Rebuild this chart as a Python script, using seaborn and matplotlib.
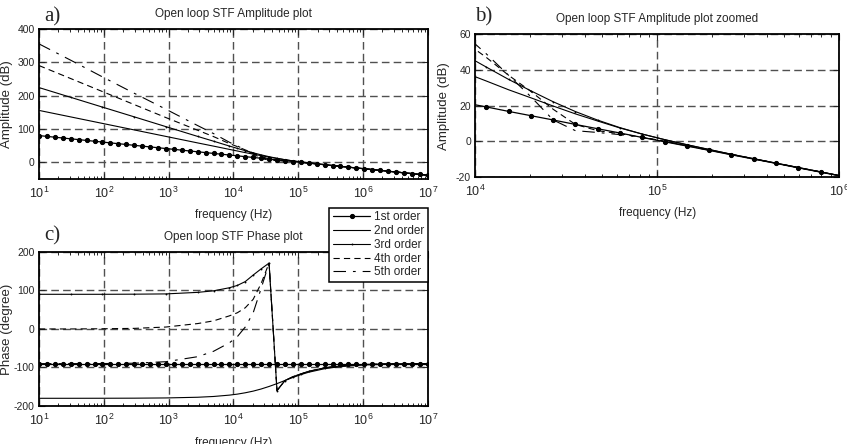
import numpy as np
import pandas as pd
import matplotlib
matplotlib.use('Agg')
import matplotlib.pyplot as plt
import seaborn as sns

sns.set_style('ticks')
plt.rcParams['font.family'] = ['Liberation Sans', 'DejaVu Sans']
plt.rcParams['lines.scale_dashes'] = False
plt.rcParams['axes.unicode_minus'] = False

# ---- data ----
# sweep used for the 1st order (marked) curve
freq = [10, 13.26, 17.58, 23.30, 30.89, 40.95, 54.29, 71.97, 95.41, 126.5,
        167.7, 222.3, 294.7, 390.7, 518.0, 686.7, 910.3, 1207, 1600, 2121,
        2812, 3728, 4942, 6551, 8685, 11514, 15264, 20236, 26827, 35565,
        47149, 62506, 82864, 109854, 145635, 193070, 255955, 339322, 449843, 596362,
        790604, 1048113, 1389495, 1842070, 2442053, 3237458, 4291934, 5689866, 7543120, 10000000]
amp_1st = [80.0, 77.6, 75.1, 72.7, 70.3, 67.9, 65.4, 63.0, 60.6, 58.1,
           55.7, 53.3, 50.8, 48.4, 46.0, 43.6, 41.1, 38.7, 36.3, 33.8,
           31.4, 29.0, 26.5, 24.1, 21.7, 19.3, 16.8, 14.4, 12.0, 9.5,
           7.1, 4.7, 2.2, -0.2, -2.6, -5.0, -7.5, -9.9, -12.3, -14.8,
           -17.2, -19.6, -22.1, -24.5, -26.9, -29.4, -31.8, -34.2, -36.6, -39.1]
phase_1st = [-90.0] * len(freq)

# coarser points for the higher orders
freq_hi = [10, 30.89, 95.41, 294.7, 910.3, 2812, 4942, 8685, 11514, 15264,
           20236, 26827, 35565, 47149, 62506, 82864, 109854, 145635, 255955, 449843,
           1048113, 3237458, 10000000]
amp_2nd = [155.5, 136.0, 116.5, 97.0, 77.5, 58.0, 48.4, 38.6, 33.8, 28.9,
           24.4, 19.8, 15.4, 11.4, 7.5, 4.1, 1.0, -1.8, -7.2, -12.1,
           -19.5, -29.2, -38.9]
amp_3rd = [224.0, 194.7, 165.4, 136.2, 106.8, 77.5, 63.2, 48.6, 41.6, 34.7,
           28.3, 22.2, 16.7, 11.9, 7.7, 4.1, 1.0, -1.9, -7.2, -12.2,
           -19.5, -29.2, -38.9]
amp_4th = [290.0, 251.0, 212.0, 173.0, 134.0, 96.0, 77.0, 56.0, 47.0, 37.0,
           28.0, 18.0, 9.5, 6.0, 4.3, 2.3, 0.2, -2.4, -7.3, -12.2,
           -19.5, -29.2, -38.9]
amp_5th = [355.0, 306.0, 256.0, 207.0, 159.0, 110.0, 86.0, 60.0, 49.0, 37.0,
           25.0, 12.0, 6.0, 5.0, 3.8, 2.2, 0.1, -2.5, -7.3, -12.2,
           -19.5, -29.2, -38.9]
phase_2nd = [-180.0, -180.0, -179.9, -179.7, -179.1, -177.3, -175.3, -171.8, -169.2, -165.7,
             -161.4, -155.9, -149.3, -141.9, -133.8, -125.9, -118.6, -112.3, -103.2, -97.6,
             -93.3, -91.1, -90.3]
phase_3rd = [90.0, 90.0, 90.0, 90.3, 91.0, 95.0, 99.0, 107.0, 113.0, 123.0,
             140.0, 156.0, 171.0, -160.0, -134.0, -124.0, -117.0, -110.0, -101.0, -96.0,
             -92.0, -90.5, -90.2]
phase_4th = [0.0, 0.0, 0.5, 1.5, 5.0, 14.0, 21.0, 34.0, 42.0, 55.0,
             77.0, 118.0, 171.0, -160.0, -134.0, -124.0, -117.0, -110.0, -101.0, -96.0,
             -92.0, -90.5, -90.2]
phase_5th = [-90.0, -90.0, -89.8, -89.0, -85.0, -72.0, -58.0, -36.0, -20.0, 5.0,
             42.0, 105.0, 171.0, -160.0, -134.0, -124.0, -117.0, -110.0, -101.0, -96.0,
             -92.0, -90.5, -90.2]

labels = ['1st order', '2nd order', '3rd order', '4th order', '5th order']
styles = [dict(color='k', lw=0.9, marker='.', ms=6, mec='k'),
          dict(color='k', lw=0.8),
          dict(color='k', lw=0.8, marker='.', ms=1.2, mec='k'),
          dict(color='k', lw=0.8, linestyle=(0, (4.5, 3))),
          dict(color='k', lw=0.8, linestyle=(0, (9, 5, 2, 5)))]

amp_series = [(freq, amp_1st), (freq_hi, amp_2nd), (freq_hi, amp_3rd),
              (freq_hi, amp_4th), (freq_hi, amp_5th)]
phase_series = [(freq, phase_1st), (freq_hi, phase_2nd), (freq_hi, phase_3rd),
                (freq_hi, phase_4th), (freq_hi, phase_5th)]


def draw(ax, series):
    for (x, y), lab, st in zip(series, labels, styles):
        sns.lineplot(x=x, y=y, ax=ax, label=lab, legend=False, **st)


def style_axes(ax, xlim, ylim, yticks, title, ylabel):
    ax.set_xscale('log')
    ax.set_xlim(*xlim)
    ax.set_ylim(*ylim)
    ax.set_yticks(yticks)
    ax.grid(True, which='major', color='#505050', lw=1.0, linestyle=(0, (5.5, 3)))
    ax.tick_params(which='both', direction='in', top=True, right=True)
    ax.tick_params(which='major', length=4, width=0.8)
    ax.tick_params(which='minor', length=2.5, width=0.7)
    ax.tick_params(axis='x', labelsize=9, pad=5)
    ax.tick_params(axis='y', labelsize=7.5, pad=3)
    for s in ax.spines.values():
        s.set_linewidth(1.3)
        s.set_color('k')
    ax.set_title(title, fontsize=8.5, pad=8.5)
    ax.set_xlabel('frequency (Hz)', fontsize=8.5, va='top')
    ax.set_ylabel(ylabel, fontsize=9.5)


fig = plt.figure(figsize=(8.47, 4.44), dpi=100)
ax_a = fig.add_axes([0.046, 0.597, 0.459, 0.338])
ax_b = fig.add_axes([0.561, 0.601, 0.4297, 0.322])
ax_c = fig.add_axes([0.046, 0.0856, 0.459, 0.347])

draw(ax_a, amp_series)
style_axes(ax_a, (10, 1e7), (-50, 400), [0, 100, 200, 300, 400],
           'Open loop STF Amplitude plot', 'Amplitude (dB)')

draw(ax_b, amp_series)
style_axes(ax_b, (1e4, 1e6), (-20, 60), [-20, 0, 20, 40, 60],
           'Open loop STF Amplitude plot zoomed', 'Amplitude (dB)')

draw(ax_c, phase_series)
style_axes(ax_c, (10, 1e7), (-200, 200), [-200, -100, 0, 100, 200],
           'Open loop STF Phase plot', 'Phase (degree)')

for ax in (ax_a, ax_b, ax_c):
    ax.xaxis.set_label_coords(0.5, -0.2)
    ax.yaxis.set_label_coords(-0.066, 0.5)
ax_b.xaxis.set_label_coords(0.5, -0.21)
ax_b.yaxis.set_label_coords(-0.07, 0.5)

leg = ax_c.legend(loc='upper right', bbox_to_anchor=(1.0, 1.286), borderaxespad=0,
                  fontsize=8.5, handlelength=3.2, handletextpad=0.3, borderpad=0.3,
                  labelspacing=0.15, fancybox=False, framealpha=1, edgecolor='k',
                  numpoints=1)
leg.get_frame().set_linewidth(1.1)

for txt, x, y in [('a)', 0.052, 0.962), ('b)', 0.561, 0.962), ('c)', 0.052, 0.468)]:
    fig.text(x, y, txt, fontsize=15, family='Liberation Serif', va='center', ha='left')

fig.savefig('out.png', dpi=100)
